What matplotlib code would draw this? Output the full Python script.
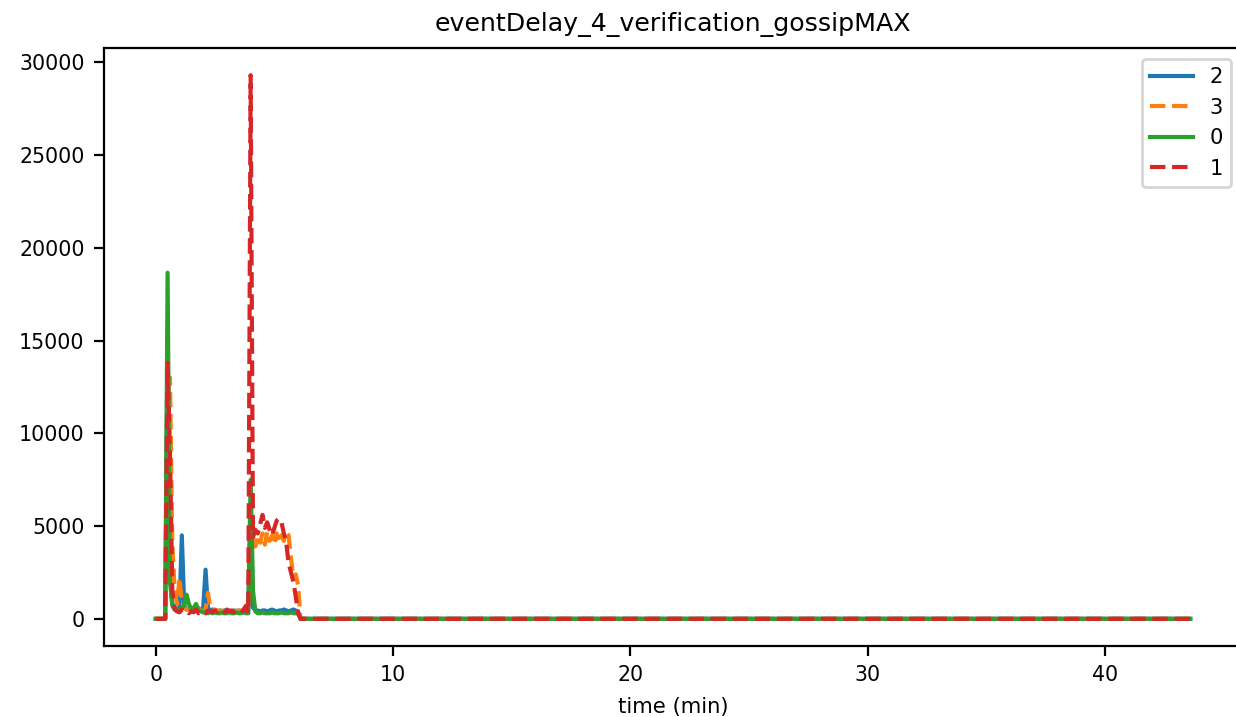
import numpy as np
import matplotlib
matplotlib.use('Agg')
import matplotlib.pyplot as plt

# time samples (min), dense during the active part, then one point at the end
t_active = [0.0, 0.1, 0.2, 0.3, 0.4, 0.5, 0.6, 0.7, 0.8, 0.9,
            1.0, 1.1, 1.2, 1.3, 1.4, 1.5, 1.6, 1.7, 1.8, 1.9,
            2.0, 2.1, 2.2, 2.3, 2.4, 2.5, 2.6, 2.7, 2.8, 2.9,
            3.0, 3.1, 3.2, 3.3, 3.4, 3.5, 3.6, 3.7, 3.8, 3.9,
            4.0, 4.1, 4.2, 4.3, 4.4, 4.5, 4.6, 4.7, 4.8, 4.9,
            5.0, 5.1, 5.2, 5.3, 5.4, 5.5, 5.6, 5.7, 5.8, 5.9,
            6.0, 6.1]
t_end = 43.6

node2 = [0, 0, 0, 0, 0, 15100, 2500, 800, 600, 500,
         550, 4500, 700, 500, 550, 500, 450, 500, 450, 500,
         600, 2650, 600, 450, 500, 450, 400, 450, 400, 450,
         400, 450, 400, 450, 400, 450, 400, 450, 400, 450,
         6000, 600, 450, 450, 400, 450, 450, 400, 450, 500,
         450, 400, 450, 450, 500, 450, 400, 450, 500, 450,
         400, 0]

node3 = [0, 0, 0, 0, 0, 9000, 13000, 4000, 1500, 800,
         2200, 900, 600, 500, 600, 450, 500, 450, 600, 450,
         400, 500, 1400, 600, 450, 500, 450, 400, 450, 400,
         450, 400, 450, 400, 450, 400, 450, 400, 450, 500,
         3000, 4300, 3900, 4500, 4100, 4600, 4000, 4700, 4200, 4500,
         4000, 4600, 4100, 4500, 4200, 4700, 4500, 3300, 2200, 2400,
         1800, 0]

node0 = [0, 0, 0, 0, 0, 18650, 2000, 700, 500, 450,
         500, 600, 700, 1300, 800, 500, 600, 800, 450, 400,
         350, 350, 300, 350, 300, 350, 300, 300, 350, 300,
         300, 350, 300, 300, 350, 300, 300, 350, 300, 300,
         7500, 1500, 400, 300, 300, 350, 300, 300, 300, 350,
         300, 300, 300, 350, 300, 300, 300, 350, 300, 300,
         300, 0]

node1 = [0, 0, 0, 0, 0, 13800, 9000, 1500, 500, 400,
         350, 500, 350, 400, 300, 400, 350, 500, 300, 350,
         400, 300, 450, 400, 350, 450, 400, 500, 450, 350,
         500, 400, 450, 350, 400, 350, 300, 500, 700, 300,
         29300, 4400, 4800, 4600, 5100, 5600, 4900, 5200, 4800, 4500,
         4900, 5300, 5400, 5200, 4600, 4100, 3000, 2500, 2000, 1200,
         300, 0]

series = [('2', node2, '#1f77b4', '-'),
          ('3', node3, '#ff7f0e', '--'),
          ('0', node0, '#2ca02c', '-'),
          ('1', node1, '#d62728', '--')]

plt.rcParams['font.size'] = 7.4

fig = plt.figure(figsize=(6.18, 3.585), dpi=200)
ax = fig.add_axes([104/1236, 71/717, 1138/1236, 598/717])

t = t_active + [t_end]
for name, vals, col, ls in series:
    ax.plot(t, vals + [0], color=col, linestyle=ls, linewidth=1.5, label=name)

ax.set_title('eventDelay_4_verification_gossipMAX', fontsize=9.1)
ax.set_xlabel('time (min)', fontsize=7.6)
ax.set_xticks([0, 10, 20, 30, 40])
ax.set_yticks([0, 5000, 10000, 15000, 20000, 25000, 30000])
ax.legend(loc='upper right', fontsize=7.6)

fig.savefig('out.png', dpi=200)
